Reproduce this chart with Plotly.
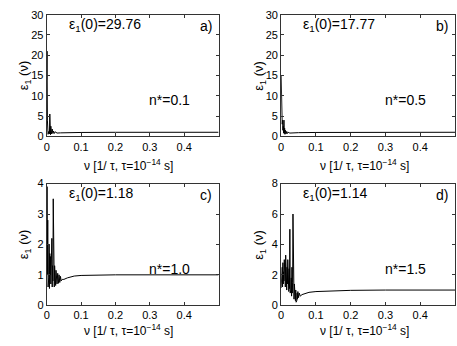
import plotly.graph_objs as go

# panel a) n*=0.1
x_a = [0, 0.001, 0.002, 0.003, 0.004, 0.006, 0.008, 0.009, 0.010, 0.011, 0.012, 0.014,
       0.016, 0.018, 0.020, 0.022, 0.025, 0.03, 0.04, 0.05, 0.07, 0.1, 0.2, 0.3, 0.5]
y_a = [14, 21, 4, 1.5, 0.5, 1.2, 0.6, 5.5, 1.0, 0.4, 2.5, 0.6,
       1.8, 0.7, 1.3, 0.7, 1.1, 0.8, 0.85, 0.88, 0.92, 0.95, 0.99, 1.0, 1.0]

# panel b) n*=0.5
x_b = [0, 0.001, 0.002, 0.003, 0.004, 0.005, 0.006, 0.007, 0.008, 0.009, 0.010, 0.011,
       0.012, 0.014, 0.016, 0.018, 0.02, 0.025, 0.03, 0.05, 0.1, 0.2, 0.5]
y_b = [15, 9, 6, 3, 4, 1.5, 2.5, 0.8, 4.0, 0.7, 2.0, 0.5,
       1.5, 0.6, 1.2, 0.7, 1.0, 0.8, 0.85, 0.9, 0.95, 0.99, 1.0]

# panel c) n*=1.0
x_c = [0, 0.001, 0.002, 0.003, 0.004, 0.005, 0.006, 0.007, 0.008, 0.009, 0.010,
       0.011, 0.012, 0.013, 0.014, 0.015, 0.016, 0.017, 0.018, 0.019, 0.020,
       0.021, 0.022, 0.023, 0.024, 0.025, 0.026, 0.027, 0.028, 0.029, 0.030,
       0.032, 0.034, 0.036, 0.038, 0.040, 0.042, 0.045, 0.05, 0.06, 0.07, 0.08,
       0.1, 0.15, 0.2, 0.5]
y_c = [1.18, 3.9, 1.0, 2.8, 0.6, 2.5, 0.9, 2.0, 0.55, 1.7, 1.0,
       1.6, 0.7, 1.4, 0.9, 2.2, 0.6, 1.3, 0.8, 3.5, 0.7,
       1.7, 0.6, 1.3, 0.75, 1.2, 0.65, 1.15, 0.7, 1.1, 0.7,
       1.05, 0.72, 1.0, 0.75, 0.95, 0.8, 0.85, 0.85, 0.9, 0.94, 0.96,
       0.98, 0.99, 1.0, 1.0]

# panel d) n*=1.5
x_d = [0, 0.001, 0.002, 0.003, 0.004, 0.005, 0.006, 0.007, 0.008, 0.009, 0.010,
       0.011, 0.012, 0.013, 0.014, 0.015, 0.016, 0.017, 0.018, 0.019, 0.020,
       0.021, 0.022, 0.023, 0.024, 0.025, 0.026, 0.027, 0.028, 0.029, 0.030,
       0.031, 0.032, 0.033, 0.034, 0.035, 0.036, 0.037, 0.038, 0.039, 0.040,
       0.041, 0.042, 0.043, 0.044, 0.045, 0.046, 0.047, 0.048, 0.05, 0.052,
       0.055, 0.06, 0.07, 0.08, 0.1, 0.15, 0.2, 0.3, 0.5]
y_d = [1.14, 2.2, 1.3, 2.5, 1.2, 2.8, 1.4, 2.2, 1.6, 3.0, 1.3,
       2.0, 1.2, 3.3, 1.5, 2.3, 1.0, 2.5, 1.4, 3.0, 1.0,
       2.0, 0.9, 2.4, 1.1, 5.0, 0.8, 2.2, 1.0, 1.8, 0.6,
       2.5, 0.8, 1.5, 6.0, 0.5, 1.8, 0.4, 1.4, 0.6, 1.2,
       0.3, 1.0, 0.2, 0.9, 0.3, 0.8, 0.4, 0.9, 0.5, 0.8,
       0.6, 0.7, 0.8, 0.85, 0.9, 0.95, 0.98, 1.0, 1.0]

panels = [
    (x_a, y_a, "29.76", "a)", "n*=0.1", [0, 30], 5),
    (x_b, y_b, "17.77", "b)", "n*=0.5", [0, 30], 5),
    (x_c, y_c, "1.18", "c)", "n*=1.0", [0, 4], 1),
    (x_d, y_d, "1.14", "d)", "n*=1.5", [0, 8], 2),
]

W, H = 457, 346
# plot boxes in pixels: left, right, top, bottom
boxes = [(44, 217, 9, 135), (280, 455, 9, 135), (44, 217, 184, 310), (280, 455, 184, 310)]
title_gap = [30, 30, 26, 26]

FONT = "Liberation Sans, Arial, sans-serif"


def px(x):
    return x / W


def py(y):
    return 1 - y / H


def add_text(fig, x, y, text, size=14, xanchor="center", yanchor="middle", angle=0):
    fig.add_annotation(x=px(x), y=py(y), xref="paper", yref="paper", text=text,
                       showarrow=False, xanchor=xanchor, yanchor=yanchor, textangle=angle,
                       font=dict(family=FONT, size=size, color="black"))


def main():
    fig = go.Figure()
    for i, (xs, ys, e0, tag, nlab, yr, dt) in enumerate(panels):
        n = i + 1
        l, r, t, b = boxes[i]
        xa = "x" if n == 1 else "x%d" % n
        ya = "y" if n == 1 else "y%d" % n
        fig.add_trace(go.Scatter(x=xs, y=ys, mode="lines", xaxis=xa, yaxis=ya,
                                 line=dict(color="black", width=1), showlegend=False))
        axis_common = dict(showgrid=False, zeroline=False, showline=True, linecolor="#333",
                           linewidth=1, mirror="ticks", ticks="inside", ticklen=3,
                           tickcolor="#333", tickfont=dict(family=FONT, size=11, color="black"))
        fig.layout["xaxis%d" % n] = dict(axis_common, domain=[px(l), px(r)], range=[0, 0.5],
                                         tickvals=[0, 0.1, 0.2, 0.3, 0.4], anchor=ya)
        fig.layout["yaxis%d" % n] = dict(axis_common, domain=[py(b), py(t)], range=yr,
                                         dtick=dt, anchor=xa)
        add_text(fig, l + 20, t + 11, "ε<sub>1</sub>(0)=" + e0, xanchor="left")
        add_text(fig, r - 5, t + 12, tag, xanchor="right")
        add_text(fig, r - 27, t + 88, nlab, xanchor="right")
        add_text(fig, l - 22, (t + b) / 2, "ε<sub>1</sub> (ν)", size=13, angle=-90)
        add_text(fig, (l + r) / 2 - 4, b + title_gap[i], "ν [1/ τ, τ=10<sup>−14</sup> s]", size=12)

    fig.update_layout(width=W, height=H, margin=dict(l=0, r=0, t=0, b=0),
                      paper_bgcolor="white", plot_bgcolor="white")
    # drop the default page margin so the figure fills the window exactly
    fig.write_html("out.html", config={"displayModeBar": False},
                   post_script="document.body.style.margin='0px';")


if __name__ == '__main__':
    main()
